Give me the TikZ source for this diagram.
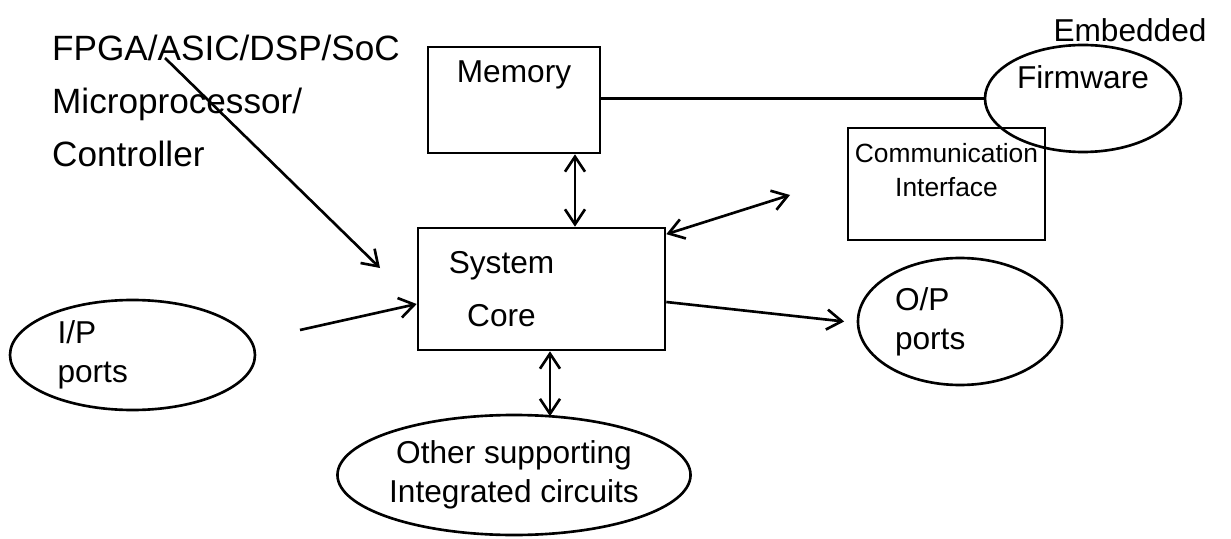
\documentclass[tikz,border=0pt]{standalone}
\usepackage{fontspec}
\setmainfont{Liberation Sans}
\usetikzlibrary{shapes.geometric,arrows.meta}

\begin{document}
\begin{tikzpicture}[
  line width=1.5pt,
  every node/.style={font=\fontsize{18}{22}\selectfont},
  blk/.style={draw,rectangle,inner sep=0pt,line width=1.5pt},
  port/.style={draw,ellipse,align=center,inner sep=0pt,line width=1.5pt},
  conn/.style={line width=1.5pt},
  >={Straight Barb[length=3mm,width=4mm]}
]
\useasboundingbox (0,0) rectangle (24.62,10.76);

% processing unit text
\node[anchor=north west,align=left,font=\fontsize{20}{30}\selectfont] (proc) at (0.9,10.2) {FPGA/ASIC/DSP/SoC\\Microprocessor/\\Controller};

% blocks
\node[blk,minimum width=3.44cm,minimum height=2.12cm,label={[anchor=north,yshift=-0.15cm]north:Memory}] (mem) at (10.28,8.76) {};
\node[blk,minimum width=4.94cm,minimum height=2.44cm,label={[align=center,xshift=-0.8cm,font=\fontsize{18}{30}\selectfont]center:System\\Core}] (sys) at (10.83,4.98) {};
\node[blk,minimum width=3.94cm,minimum height=2.24cm,label={[anchor=north,align=center,yshift=-0.2cm,font=\fontsize{15}{19}\selectfont]north:Communication\\Interface}] (comm) at (18.93,7.08) {};

% ellipses
\node[port,minimum width=3.92cm,minimum height=2.14cm,label={[anchor=north,yshift=-0.3cm]north:Firmware}] (fw) at (21.66,8.79) {};
\node (fwTxt) at (22.6,10.16) {Embedded};
\node[port,minimum width=4.9cm,minimum height=2.2cm,text width=3cm,align=left] (ip) at (2.65,3.66) {I/P\\ports};
\node[port,minimum width=4.08cm,minimum height=2.54cm,text width=2.6cm,align=left] (op) at (19.2,4.33) {O/P\\ports};
\node[port,minimum width=5.04cm,minimum height=2.4cm] (isc) at (10.28,1.26) {Other supporting\\Integrated circuits};

% free ends
\coordinate (procPt) at (3.3,9.6);
\coordinate (sysIn) at (7.6,5.4);
\coordinate (ipOut) at (6.0,4.16);
\coordinate (commEnd) at (15.8,6.86);

% connections
\draw[conn] (fw.west) -- (fw.west -| mem.east);
\draw[conn,<->] ([xshift=1.22cm]mem.south) -- ([xshift=0.67cm]sys.north);
\draw[conn,<->] ([yshift=-0.15cm]sys.north east) -- (commEnd);
\draw[conn,->] (procPt) -- (sysIn);
\draw[conn,->] (ipOut) -- ([yshift=-0.3cm]sys.west);
\draw[conn,->] ([yshift=-0.26cm]sys.east) -- ([xshift=-0.25cm]op.west);
\draw[conn,<->] ([xshift=0.17cm]sys.south) -- ([xshift=0.72cm,yshift=-0.05cm]isc.north);
\end{tikzpicture}
\end{document}
